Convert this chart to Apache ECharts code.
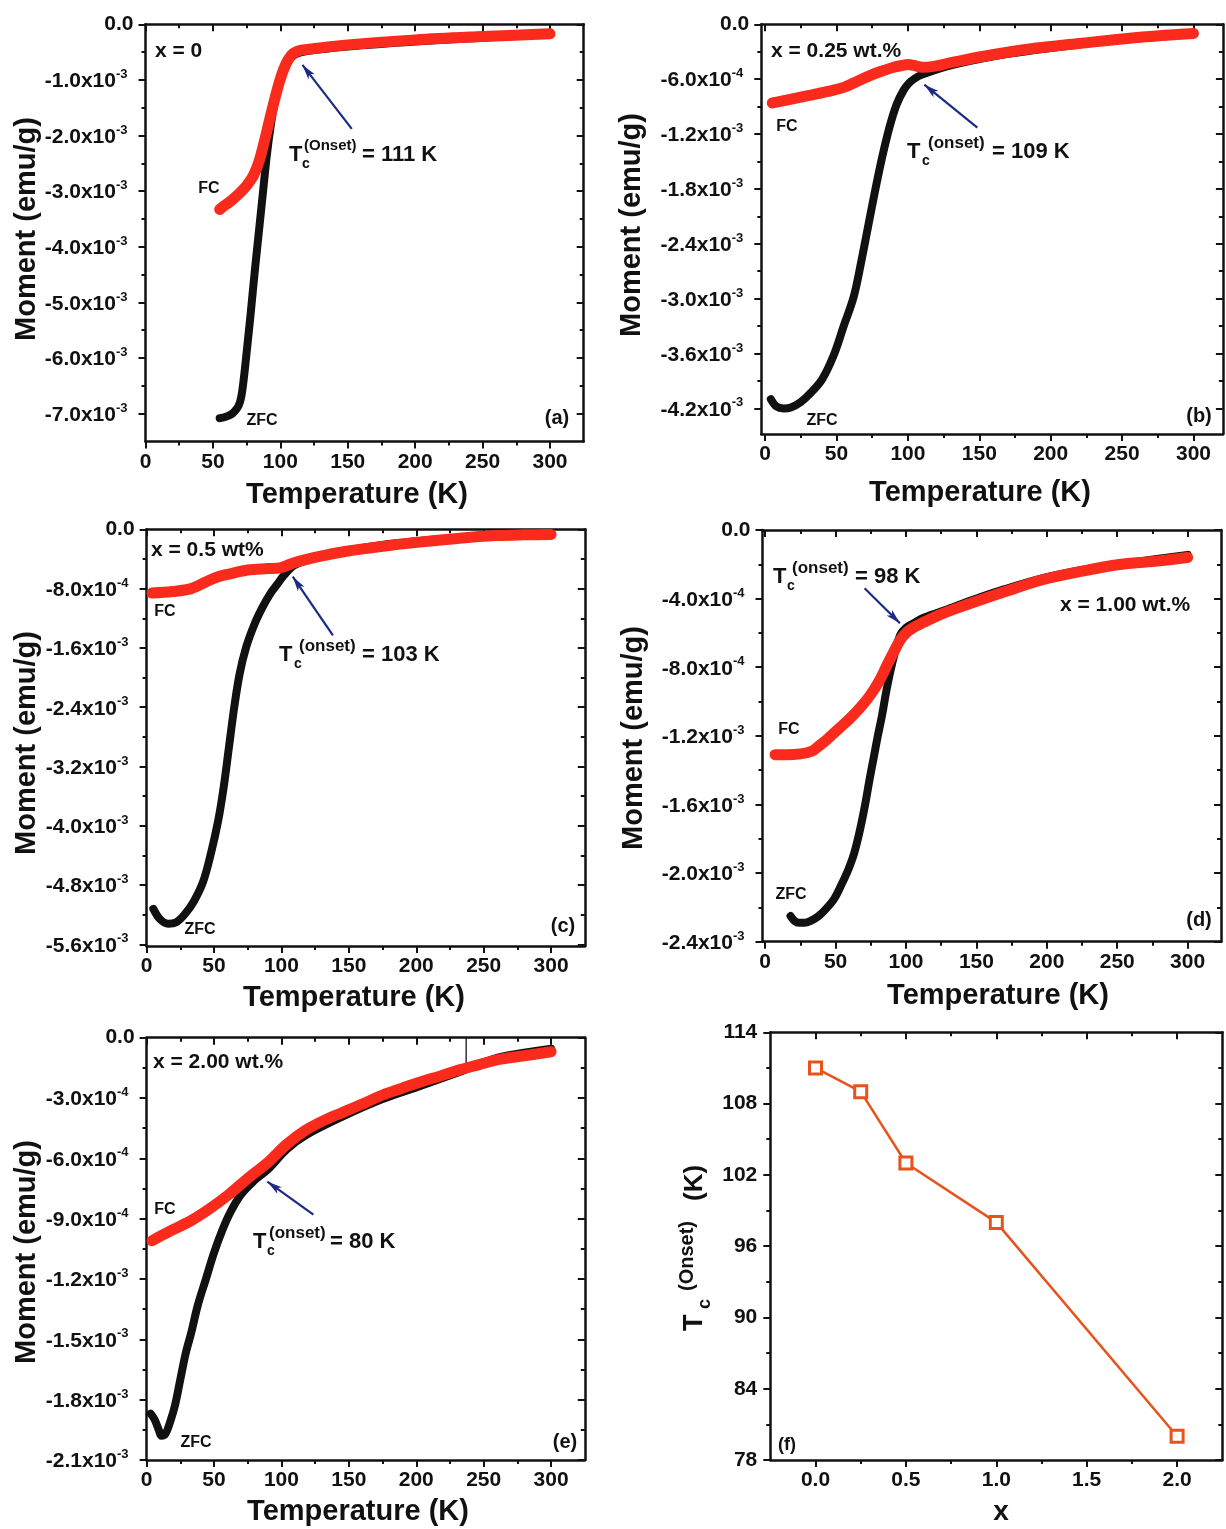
<!DOCTYPE html>
<html><head><meta charset="utf-8">
<script src="https://cdn.jsdelivr.net/npm/echarts@6/dist/echarts.min.js"></script>
<style>html,body{margin:0;padding:0;background:#fff}#c{width:1226px;height:1529px}</style>
</head><body><div id="c"></div>
<script>
// ---------------- DATA ----------------
// (a) x = 0
const T_a_ZFC = [55,59,63,66,69,71,73,75,78,81,84,87,90,93,96,99,102,105,108,112,120,150,200,250,300];
const M_a_ZFC = [-7.08e-3,-7.06e-3,-7.02e-3,-6.96e-3,-6.86e-3,-6.70e-3,-6.35e-3,-5.90e-3,-5.20e-3,-4.45e-3,-3.75e-3,-3.05e-3,-2.35e-3,-1.80e-3,-1.38e-3,-1.06e-3,-8.4e-4,-6.9e-4,-6.0e-4,-5.3e-4,-4.8e-4,-4.0e-4,-3.1e-4,-2.4e-4,-1.8e-4];
const T_a_FC = [55,58,62,66,70,75,80,84,88,92,96,100,104,108,112,120,150,200,250,300];
const M_a_FC = [-3.33e-3,-3.27e-3,-3.20e-3,-3.12e-3,-3.03e-3,-2.90e-3,-2.72e-3,-2.48e-3,-2.12e-3,-1.72e-3,-1.33e-3,-9.8e-4,-7.2e-4,-5.6e-4,-4.9e-4,-4.5e-4,-3.7e-4,-2.8e-4,-2.2e-4,-1.7e-4];
// (b) x = 0.25 wt.%
const T_b_ZFC = [4,8,13,18,25,32,40,48,55,62,67,72,77,82,87,92,97,101,105,110,130,160,190,220,250,280,300];
const M_b_ZFC = [-4.10e-3,-4.18e-3,-4.20e-3,-4.19e-3,-4.13e-3,-4.03e-3,-3.88e-3,-3.62e-3,-3.30e-3,-2.98e-3,-2.62e-3,-2.22e-3,-1.82e-3,-1.45e-3,-1.13e-3,-8.8e-4,-7.2e-4,-6.4e-4,-5.9e-4,-5.5e-4,-4.5e-4,-3.5e-4,-2.8e-4,-2.2e-4,-1.7e-4,-1.3e-4,-1.1e-4];
const T_b_FC = [5,15,30,45,55,65,75,82,90,96,100,104,110,118,130,160,190,220,250,280,300];
const M_b_FC = [-8.6e-4,-8.3e-4,-7.8e-4,-7.3e-4,-6.9e-4,-6.2e-4,-5.5e-4,-5.1e-4,-4.7e-4,-4.5e-4,-4.4e-4,-4.5e-4,-4.7e-4,-4.6e-4,-4.2e-4,-3.3e-4,-2.6e-4,-2.1e-4,-1.6e-4,-1.2e-4,-1.0e-4];
// (c) x = 0.5 wt%
const T_c_ZFC = [5,10,16,22,28,35,42,48,53,57,61,65,69,74,80,86,92,97,101,110,130,160,190,220,250,280,300];
const M_c_ZFC = [-5.12e-3,-5.26e-3,-5.32e-3,-5.30e-3,-5.20e-3,-5.02e-3,-4.75e-3,-4.35e-3,-3.94e-3,-3.50e-3,-2.95e-3,-2.40e-3,-1.95e-3,-1.58e-3,-1.28e-3,-1.05e-3,-8.6e-4,-7.4e-4,-6.4e-4,-4.8e-4,-3.6e-4,-2.5e-4,-1.8e-4,-1.3e-4,-9e-5,-6e-5,-5e-5];
const T_c_FC = [4,19,33,45,53,62,75,90,99,108,118,130,147,175,204,232,260,280,300];
const M_c_FC = [-8.6e-4,-8.4e-4,-8.0e-4,-7.0e-4,-6.4e-4,-6.0e-4,-5.5e-4,-5.3e-4,-5.2e-4,-4.6e-4,-4.1e-4,-3.6e-4,-3.0e-4,-2.3e-4,-1.7e-4,-1.2e-4,-8.5e-5,-7.5e-5,-7.0e-5];
// (d) x = 1.00 wt.%
const T_d_ZFC = [18,21,24,28,32,38,43,49,54,59,63,67,71,74,77,80,83,86,89,92,96,100,105,113,130,150,170,200,230,260,300];
const M_d_ZFC = [-2.25e-3,-2.28e-3,-2.29e-3,-2.29e-3,-2.28e-3,-2.25e-3,-2.21e-3,-2.15e-3,-2.07e-3,-1.98e-3,-1.89e-3,-1.76e-3,-1.60e-3,-1.46e-3,-1.33e-3,-1.20e-3,-1.08e-3,-9.4e-4,-8.2e-4,-7.2e-4,-6.1e-4,-5.7e-4,-5.45e-4,-5.1e-4,-4.6e-4,-4.0e-4,-3.45e-4,-2.75e-4,-2.25e-4,-1.9e-4,-1.45e-4];
const T_d_FC = [7,15,25,33,38,44,52,60,67,74,81,87,92,96,100,105,112,125,145,170,197,225,253,280,300];
const M_d_FC = [-1.31e-3,-1.31e-3,-1.305e-3,-1.29e-3,-1.26e-3,-1.22e-3,-1.16e-3,-1.10e-3,-1.04e-3,-9.7e-4,-8.8e-4,-7.8e-4,-7.0e-4,-6.4e-4,-6.0e-4,-5.7e-4,-5.4e-4,-4.9e-4,-4.3e-4,-3.6e-4,-2.9e-4,-2.4e-4,-2.0e-4,-1.8e-4,-1.6e-4];
// (e) x = 2.00 wt.%
const T_e_ZFC = [3,6,9,11,14,17,21,25,29,33,38,44,50,56,62,70,80,90,104,118,146,175,203,232,260,280,300];
const M_e_ZFC = [-1.87e-3,-1.90e-3,-1.95e-3,-1.98e-3,-1.97e-3,-1.92e-3,-1.83e-3,-1.70e-3,-1.57e-3,-1.47e-3,-1.33e-3,-1.20e-3,-1.07e-3,-9.6e-4,-8.7e-4,-7.8e-4,-7.1e-4,-6.55e-4,-5.55e-4,-4.85e-4,-3.9e-4,-3.05e-4,-2.4e-4,-1.7e-4,-1.0e-4,-7.5e-5,-5.5e-5];
const T_e_FC = [4,18,33,47,61,75,90,104,118,132,146,160,175,190,203,218,232,246,260,280,300];
const M_e_FC = [-1.01e-3,-9.6e-4,-9.1e-4,-8.5e-4,-7.8e-4,-7.0e-4,-6.2e-4,-5.3e-4,-4.6e-4,-4.1e-4,-3.7e-4,-3.3e-4,-2.85e-4,-2.5e-4,-2.2e-4,-1.9e-4,-1.6e-4,-1.35e-4,-1.1e-4,-9e-5,-7e-5];
const T_e_spike = [237,237];
const M_e_spike = [-1.6e-4,1e-5];
// (f) Tc(onset) vs x
const X_f = [0,0.25,0.5,1.0,2.0];
const Tc_f = [111,109,103,98,80];

// ---------------- TICKS ----------------
const xMajorT = [0,50,100,150,200,250,300];
const xMinorT = [25,75,125,175,225,275];
const yMajor_a = [-7e-3,-6e-3,-5e-3,-4e-3,-3e-3,-2e-3,-1e-3,0];
const yMinor_a = [-6.5e-3,-5.5e-3,-4.5e-3,-3.5e-3,-2.5e-3,-1.5e-3,-5e-4];
const yMajor_b = [-4.2e-3,-3.6e-3,-3.0e-3,-2.4e-3,-1.8e-3,-1.2e-3,-6e-4,0];
const yMinor_b = [-3.9e-3,-3.3e-3,-2.7e-3,-2.1e-3,-1.5e-3,-9e-4,-3e-4];
const yMajor_c = [-5.6e-3,-4.8e-3,-4.0e-3,-3.2e-3,-2.4e-3,-1.6e-3,-8e-4,0];
const yMinor_c = [-5.2e-3,-4.4e-3,-3.6e-3,-2.8e-3,-2.0e-3,-1.2e-3,-4e-4];
const yMajor_d = [-2.4e-3,-2.0e-3,-1.6e-3,-1.2e-3,-8e-4,-4e-4,0];
const yMinor_d = [-2.2e-3,-1.8e-3,-1.4e-3,-1.0e-3,-6e-4,-2e-4];
const yMajor_e = [-2.1e-3,-1.8e-3,-1.5e-3,-1.2e-3,-9e-4,-6e-4,-3e-4,0];
const yMinor_e = [-1.95e-3,-1.65e-3,-1.35e-3,-1.05e-3,-7.5e-4,-4.5e-4,-1.5e-4];
const xMajor_f = [0,0.5,1.0,1.5,2.0];
const xMinor_f = [0.25,0.75,1.25,1.75];
const yMajor_f = [78,84,90,96,102,108,114];
const yMinor_f = [81,87,93,99,105,111];

// ---------------- LAYOUT / STYLE ----------------
const FONT = '"Liberation Sans", Arial, Helvetica, sans-serif';
const INK = '#111';
const RED = '#fa2a1c';
const BLK = '#111';
const NAVY = '#1c2a84';
const ORANGE = '#e8531c';

const grids = [
  {left:145.5, top:24.3, width:438.2, height:417.2},
  {left:761.3, top:24.3, width:461.6, height:409.7},
  {left:146.6, top:529.3, width:438.2, height:416.6},
  {left:762.5, top:530, width:458.5, height:411.7},
  {left:146.6, top:1037.7, width:438.2, height:422.2},
  {left:770.3, top:1032.3, width:452, height:427.7}
];
const xRanges = [[0,325],[-2.7,320.6],[0,325],[-1.9,323.7],[0,325],[-0.25,2.25]];
const yRanges = [[-7.5e-3,0],[-4.48e-3,0],[-5.62e-3,0],[-2.4e-3,0],[-2.1e-3,0],[78,114]];

function sciLabel(v){
  if (Math.abs(v) < 1e-12) return '{z|0.0}';
  const e = Math.floor(Math.log10(Math.abs(v)) + 1e-9);
  const m = v / Math.pow(10, e);
  return '{m|' + m.toFixed(1) + 'x10}{s|' + e + '}';
}
const lineS = {color: INK, width: 2.5};
const tickS = {color: INK, width: 2};

function makeX(gi, major, minor, fmt){
  const [min, max] = xRanges[gi];
  const base = {type:'value', gridIndex:gi, min, max, splitLine:{show:false}, splitArea:{show:false}};
  return [
    Object.assign({}, base, {position:'bottom',
      axisLine:{show:true, onZero:false, lineStyle:lineS},
      axisTick:{show:true, inside:false, length:7, customValues:major, lineStyle:tickS},
      axisLabel:{show:true, customValues:major, formatter:fmt, margin:10, color:INK,
        fontSize:21, fontWeight:'bold', fontFamily:FONT}}),
    Object.assign({}, base, {position:'bottom',
      axisLine:{show:false, onZero:false},
      axisTick:{show:true, inside:false, length:4, customValues:minor, lineStyle:tickS},
      axisLabel:{show:false}}),
    Object.assign({}, base, {position:'top',
      axisLine:{show:true, onZero:false, lineStyle:lineS},
      axisTick:{show:true, inside:true, length:7, customValues:major, lineStyle:tickS},
      axisLabel:{show:false}}),
    Object.assign({}, base, {position:'top',
      axisLine:{show:false, onZero:false},
      axisTick:{show:true, inside:true, length:4, customValues:minor, lineStyle:tickS},
      axisLabel:{show:false}})
  ];
}
function makeY(gi, major, minor, fmt, rich, margin){
  const [min, max] = yRanges[gi];
  const base = {type:'value', gridIndex:gi, min, max, splitLine:{show:false}, splitArea:{show:false}};
  return [
    Object.assign({}, base, {position:'left',
      axisLine:{show:true, onZero:false, lineStyle:lineS},
      axisTick:{show:true, inside:false, length:7, customValues:major, lineStyle:tickS},
      axisLabel:{show:true, customValues:major, formatter:fmt, margin:margin, color:INK,
        fontSize:21, fontWeight:'bold', fontFamily:FONT, rich:rich}}),
    Object.assign({}, base, {position:'left',
      axisLine:{show:false, onZero:false},
      axisTick:{show:true, inside:false, length:4, customValues:minor, lineStyle:tickS},
      axisLabel:{show:false}}),
    Object.assign({}, base, {position:'right',
      axisLine:{show:true, onZero:false, lineStyle:lineS},
      axisTick:{show:true, inside:true, length:7, customValues:major, lineStyle:tickS},
      axisLabel:{show:false}}),
    Object.assign({}, base, {position:'right',
      axisLine:{show:false, onZero:false},
      axisTick:{show:true, inside:true, length:4, customValues:minor, lineStyle:tickS},
      axisLabel:{show:false}})
  ];
}
const sciRich = {
  m:{fontSize:21, fontWeight:'bold', fontFamily:FONT, color:INK, lineHeight:24, verticalAlign:'bottom'},
  s:{fontSize:13, fontWeight:'bold', fontFamily:FONT, color:INK, lineHeight:13, verticalAlign:'top', padding:[0,6,0,0]},
  z:{fontSize:21, fontWeight:'bold', fontFamily:FONT, color:INK, lineHeight:24, padding:[0,0,0,0]}
};
const intFmt = v => String(Math.round(v));
const oneDec = v => v.toFixed(1);

const xAxes = [].concat(
  makeX(0, xMajorT, xMinorT, intFmt),
  makeX(1, xMajorT, xMinorT, intFmt),
  makeX(2, xMajorT, xMinorT, intFmt),
  makeX(3, xMajorT, xMinorT, intFmt),
  makeX(4, xMajorT, xMinorT, intFmt),
  makeX(5, xMajor_f, xMinor_f, oneDec)
);
const yAxes = [].concat(
  makeY(0, yMajor_a, yMinor_a, sciLabel, sciRich, 12),
  makeY(1, yMajor_b, yMinor_b, sciLabel, sciRich, 12),
  makeY(2, yMajor_c, yMinor_c, sciLabel, sciRich, 12),
  makeY(3, yMajor_d, yMinor_d, sciLabel, sciRich, 12),
  makeY(4, yMajor_e, yMinor_e, sciLabel, sciRich, 12),
  makeY(5, yMajor_f, yMinor_f, intFmt, {}, 13)
);

const pair = (xs, ys) => xs.map((x, i) => [x, ys[i]]);
function curve(gi, xs, ys, color, width, z){
  return {type:'line', xAxisIndex:4*gi, yAxisIndex:4*gi, data:pair(xs, ys),
    showSymbol:false, symbol:'none', smooth:0.35, silent:true, z:z,
    lineStyle:{color:color, width:width, cap:'round', join:'round'}, animation:false};
}
function arrow(from, to){
  return {silent:true, symbol:['none','arrow'], symbolSize:[6,15], animation:false,
    label:{show:false}, lineStyle:{color:NAVY, width:2.2, type:'solid'},
    emphasis:{disabled:true},
    data:[[{coord:from},{coord:to}]]};
}

const series = [
  curve(0, T_a_ZFC, M_a_ZFC, BLK, 8, 2),
  Object.assign(curve(0, T_a_FC, M_a_FC, RED, 11, 3), {markLine: arrow([153,-1.88e-3],[116.4,-7.3e-4])}),
  curve(1, T_b_ZFC, M_b_ZFC, BLK, 8, 2),
  Object.assign(curve(1, T_b_FC, M_b_FC, RED, 11, 3), {markLine: arrow([148.6,-1.13e-3],[111.5,-6.6e-4])}),
  curve(2, T_c_ZFC, M_c_ZFC, BLK, 8, 2),
  Object.assign(curve(2, T_c_FC, M_c_FC, RED, 11, 3), {markLine: arrow([138.2,-1.43e-3],[108.4,-6.4e-4])}),
  curve(3, T_d_ZFC, M_d_ZFC, BLK, 8, 2),
  Object.assign(curve(3, T_d_FC, M_d_FC, RED, 11, 3), {markLine: arrow([70.6,-3.4e-4],[95.7,-5.44e-4])}),
  curve(4, T_e_ZFC, M_e_ZFC, BLK, 8, 2),
  Object.assign(curve(4, T_e_FC, M_e_FC, RED, 11, 3), {markLine: arrow([123.7,-8.8e-4],[89.6,-7.16e-4])}),
  Object.assign(curve(4, T_e_spike, M_e_spike, BLK, 1.3, 2), {smooth:false}),
  {type:'line', xAxisIndex:20, yAxisIndex:20, data:pair(X_f, Tc_f), silent:true, animation:false,
    symbol:'rect', symbolSize:12, showSymbol:true, z:3,
    lineStyle:{color:ORANGE, width:2.5},
    itemStyle:{color:'#fff', borderColor:ORANGE, borderWidth:3}}
];

// ---------------- TEXT ----------------
function txt(x, y, text, size, align, rot){
  return {type:'text', x:x, y:y, rotation:rot||0, silent:true, z:50,
    style:{text:text, font:'bold ' + size + 'px ' + FONT, fill:INK,
      textAlign:align||'left', textVerticalAlign:'middle', align:align||'left', verticalAlign:'middle'}};
}
function tc(xT, y, xc, xs, xe, sup, eq, supSize){
  return [txt(xT, y, 'T', 22), txt(xc, y+9, 'c', 14), txt(xs, y-9, sup, supSize||16), txt(xe, y, eq, 22)];
}
const R90 = Math.PI/2;
const graphics = [
  // (a)
  txt(155, 51, 'x = 0', 21), txt(209, 189, 'FC', 16, 'center'), txt(262, 421, 'ZFC', 16, 'center'),
  txt(557, 418, '(a)', 20, 'center'),
  ...tc(289, 155, 302, 304, 362, '(Onset)', '= 111 K', 15),
  txt(357, 495, 'Temperature (K)', 29, 'center'), txt(27, 229, 'Moment (emu/g)', 29, 'center', R90),
  // (b)
  txt(771, 51, 'x = 0.25 wt.%', 21), txt(787, 127, 'FC', 16, 'center'), txt(822, 421, 'ZFC', 16, 'center'),
  txt(1199, 416, '(b)', 20, 'center'),
  ...tc(907, 152, 922, 928, 992, '(onset)', '= 109 K', 17),
  txt(980, 493, 'Temperature (K)', 29, 'center'), txt(632, 225, 'Moment (emu/g)', 29, 'center', R90),
  // (c)
  txt(151, 550, 'x = 0.5 wt%', 21), txt(165, 612, 'FC', 16, 'center'), txt(200, 930, 'ZFC', 16, 'center'),
  txt(563, 926, '(c)', 20, 'center'),
  ...tc(279, 655, 294, 299, 362, '(onset)', '= 103 K', 17),
  txt(354, 998, 'Temperature (K)', 29, 'center'), txt(27, 743, 'Moment (emu/g)', 29, 'center', R90),
  // (d)
  txt(1060, 605, 'x = 1.00 wt.%', 21), txt(789, 730, 'FC', 16, 'center'), txt(791, 895, 'ZFC', 16, 'center'),
  txt(1199, 920, '(d)', 20, 'center'),
  ...tc(773, 577, 787, 792, 855, '(onset)', '= 98 K', 17),
  txt(998, 996, 'Temperature (K)', 29, 'center'), txt(634, 738, 'Moment (emu/g)', 29, 'center', R90),
  // (e)
  txt(153, 1062, 'x = 2.00 wt.%', 21), txt(165, 1210, 'FC', 16, 'center'), txt(196, 1443, 'ZFC', 16, 'center'),
  txt(565, 1442, '(e)', 20, 'center'),
  ...tc(253, 1242, 267, 269, 330, '(onset)', '= 80 K', 17),
  txt(358, 1512, 'Temperature (K)', 29, 'center'), txt(27, 1252, 'Moment (emu/g)', 29, 'center', R90),
  // (f)
  txt(787, 1445, '(f)', 18, 'center'),
  txt(1001, 1512, 'x', 28, 'center'),
  {type:'group', x:695, y:1331, rotation:R90, silent:true, z:50, children:[
    txt(0, 0, 'T', 27), txt(22, 10, 'c', 18), txt(40, -8, '(Onset)', 20), txt(130, 0, '(K)', 26)
  ]}
];

const chart = echarts.init(document.getElementById('c'), null, {renderer:'canvas'});
chart.setOption({
  animation:false,
  backgroundColor:'#ffffff',
  grid: grids.map(g => Object.assign({show:false, containLabel:false}, g)),
  xAxis: xAxes,
  yAxis: yAxes,
  series: series,
  graphic: graphics
});
</script></body></html>
